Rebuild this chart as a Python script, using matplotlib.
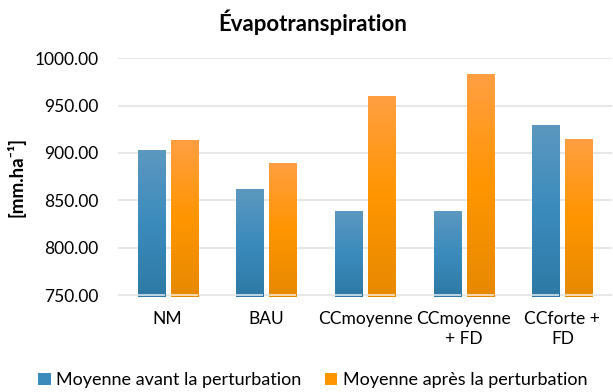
import numpy as np
import matplotlib.pyplot as plt
from matplotlib.colors import LinearSegmentedColormap

# Evapotranspiration per scenario, before / after disturbance
categories = ["NM", "BAU", "CCmoyenne", "CCmoyenne\n+ FD", "CCforte +\nFD"]
avant = [903, 862, 839, 839, 930]
apres = [913.5, 889, 960, 983, 915]
yticks = [750, 800, 850, 900, 950, 1000]

plt.rcParams["font.family"] = ["Lato", "DejaVu Sans"]

blue_cmap = LinearSegmentedColormap.from_list("b", ["#2E79A5", "#3B8BBD", "#5C98BF"])
orange_cmap = LinearSegmentedColormap.from_list("o", ["#E68900", "#FF9500", "#FF9F42"])

fig = plt.figure(figsize=(6.13, 3.92), dpi=100)
ax = fig.add_axes([0.193, 0.2423, 0.805, 0.6107])

x = np.arange(len(categories))
w = 0.275
off = 0.168
ybot = 748.2

b1 = ax.bar(x - off, np.array(avant) - ybot, w, bottom=ybot, color="#3B8BBD",
            zorder=2, label="Moyenne avant la perturbation")
b2 = ax.bar(x + off, np.array(apres) - ybot, w, bottom=ybot, color="#FF9500",
            zorder=2, label="Moyenne après la perturbation")

# vertical gradient inside each bar, plus the light axis line crossing it
grad = np.linspace(0, 1, 256).reshape(-1, 1)
for bars, cmap in [(b1, blue_cmap), (b2, orange_cmap)]:
    for p in bars:
        x0, y0 = p.get_x(), p.get_y()
        im = ax.imshow(grad, cmap=cmap, origin="lower", aspect="auto",
                       extent=[x0, x0 + p.get_width(), y0, y0 + p.get_height()],
                       zorder=2.5)
        im.set_clip_path(p)
        ax.hlines(750, x0, x0 + p.get_width(), color="white", alpha=0.75,
                  linewidth=1.3, zorder=4)

ax.set_xlim(-0.5, len(categories) - 0.5)
ax.set_ylim(ybot, 1000.5)
ax.set_yticks(yticks)
ax.set_yticklabels([f"{v:.2f}" for v in yticks], fontsize=12.5)
ax.set_xticks(x)
ax.set_xticklabels(categories, fontsize=12.5, linespacing=1.3)
ax.tick_params(length=0)
ax.tick_params(axis="x", pad=10)
ax.tick_params(axis="y", pad=14)

ax.yaxis.grid(True, color="#e3e3e3", linewidth=1.2, zorder=0)
ax.set_axisbelow(True)
for s in ax.spines.values():
    s.set_visible(False)

ax.set_ylabel("[mm.ha⁻¹]", fontsize=13.5, fontweight="bold", labelpad=7)
fig.text(0.51, 0.944, "Évapotranspiration", ha="center", va="center",
         fontsize=16, fontweight="bold")

leg = fig.legend(handles=[b1, b2], loc="center", bbox_to_anchor=(0.51, 0.03),
                 ncol=2, frameon=False, fontsize=13, handlelength=0.7,
                 handleheight=0.7, handletextpad=0.3, columnspacing=1.3)

fig.savefig("out.png", dpi=100)
